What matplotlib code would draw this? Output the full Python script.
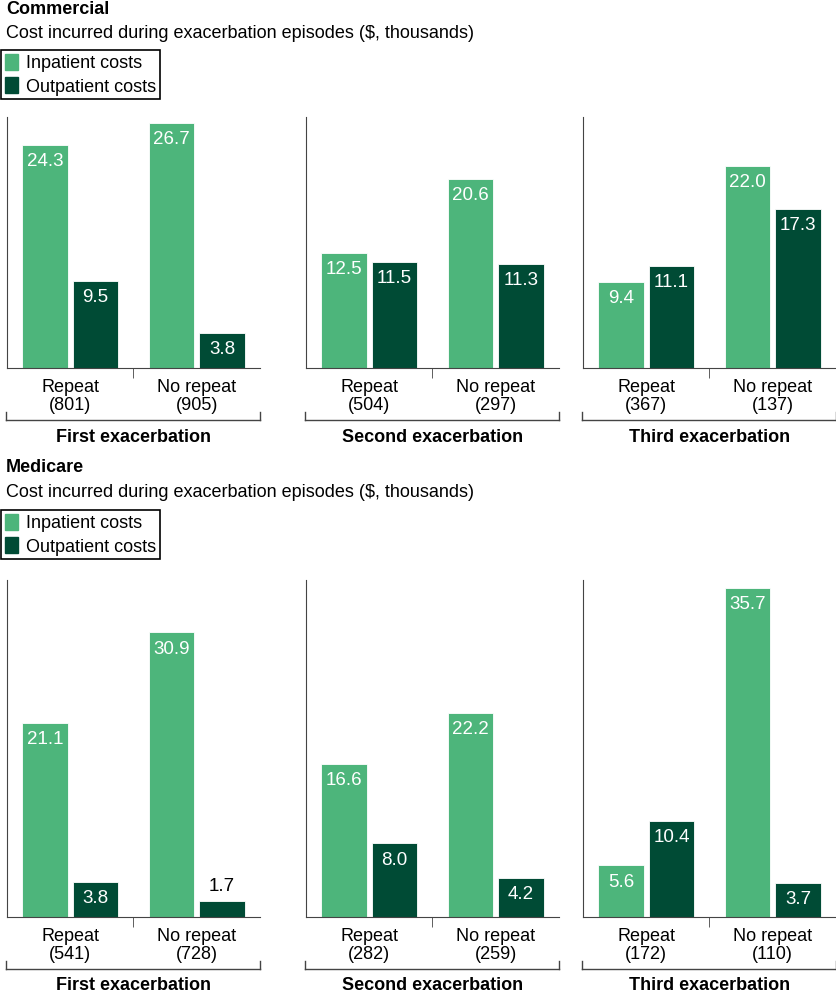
import matplotlib.pyplot as plt
from matplotlib.patches import Patch

plt.rcParams['font.family'] = ['Liberation Sans', 'DejaVu Sans']

# data (thousands of $)
groups = ['Repeat', 'No repeat']
panel_titles = ['First exacerbation', 'Second exacerbation', 'Third exacerbation']

comm_inpatient = [[24.3, 26.7], [12.5, 20.6], [9.4, 22.0]]
comm_outpatient = [[9.5, 3.8], [11.5, 11.3], [11.1, 17.3]]
comm_n = [[801, 905], [504, 297], [367, 137]]

med_inpatient = [[21.1, 30.9], [16.6, 22.2], [5.6, 35.7]]
med_outpatient = [[3.8, 1.7], [8.0, 4.2], [10.4, 3.7]]
med_n = [[541, 728], [282, 259], [172, 110]]

light = '#4db57b'
dark = '#004b35'
fs = 13

W, H = 837, 998
fig = plt.figure(figsize=(W / 100, H / 100), dpi=100)

# panel left edges in pixels, width in pixels
lefts = [7, 306, 583]
pw = 253


def px(x, y):
    return x / W, 1 - y / H


def draw_block(inpat, outpat, ns, top_px, base_px, ymax):
    for i in range(3):
        x0, y0 = px(lefts[i], base_px)
        ax = fig.add_axes([x0, y0, pw / W, (base_px - top_px) / H])
        bw = 0.36
        for j in range(2):
            c = j + 0.5
            for val, xc, col in [(inpat[i][j], c - 0.2, light), (outpat[i][j], c + 0.2, dark)]:
                ax.bar(xc, val, bw, color=col, edgecolor='white', linewidth=0.6)
                if val > 2.5:
                    ax.annotate(f'{val:.1f}', (xc, val), xytext=(0, -12),
                                textcoords='offset points', ha='center', va='center',
                                color='white', fontsize=13.5)
                else:
                    ax.annotate(f'{val:.1f}', (xc, val), xytext=(0, 11),
                                textcoords='offset points', ha='center', va='center',
                                color='black', fontsize=13.5)
        ax.set_xlim(0, 2)
        ax.set_ylim(0, ymax)
        for s in ['top', 'right']:
            ax.spines[s].set_visible(False)
        ax.spines['left'].set_color('#444444')
        ax.spines['bottom'].set_color('#444444')
        ax.set_yticks([])
        ax.set_xticks([0.5, 1.5])
        ax.set_xticklabels([f'{g}\n({n})' for g, n in zip(groups, ns[i])], fontsize=fs,
                           linespacing=1.1)
        ax.tick_params(axis='x', which='major', length=0, pad=8)
        ax.set_xticks([1], minor=True)
        ax.tick_params(axis='x', which='minor', length=7, color='#444444')
        # bracket under the group labels
        by = base_px + 52
        bx0, byf = px(lefts[i] - 1, by)
        bx1, _ = px(lefts[i] + pw, by)
        _, btop = px(0, by - 8)
        fig.add_artist(plt.Line2D([bx0, bx1], [byf, byf], color='#444444', lw=1))
        fig.add_artist(plt.Line2D([bx0, bx0], [byf, btop], color='#444444', lw=1))
        fig.add_artist(plt.Line2D([bx1, bx1], [byf, btop], color='#444444', lw=1))
        tx, ty = px(lefts[i] + pw / 2, base_px + 69)
        fig.text(tx, ty, panel_titles[i], ha='center', va='center',
                 fontsize=fs, fontweight='bold')


def header(title, y_px, legend_top):
    fig.text(*px(6, y_px), title, fontsize=fs, fontweight='bold', va='center')
    fig.text(*px(6, y_px + 24), 'Cost incurred during exacerbation episodes ($, thousands)',
             fontsize=fs, va='center')
    handles = [Patch(color=light, label='Inpatient costs'),
               Patch(color=dark, label='Outpatient costs')]
    leg = fig.legend(handles=handles, loc='upper left', bbox_to_anchor=px(1, legend_top),
                     frameon=True, fancybox=False, edgecolor='black', framealpha=1,
                     fontsize=fs, handlelength=0.75, handleheight=1.0, handletextpad=0.45,
                     borderpad=0.2, labelspacing=0.3, borderaxespad=0)
    leg.get_frame().set_linewidth(1.2)


header('Commercial', 10, 50)
draw_block(comm_inpatient, comm_outpatient, comm_n, 117, 368, 27.3)

header('Medicare', 468, 510)
draw_block(med_inpatient, med_outpatient, med_n, 580, 917, 36.6)

plt.savefig('out.png', dpi=100)
